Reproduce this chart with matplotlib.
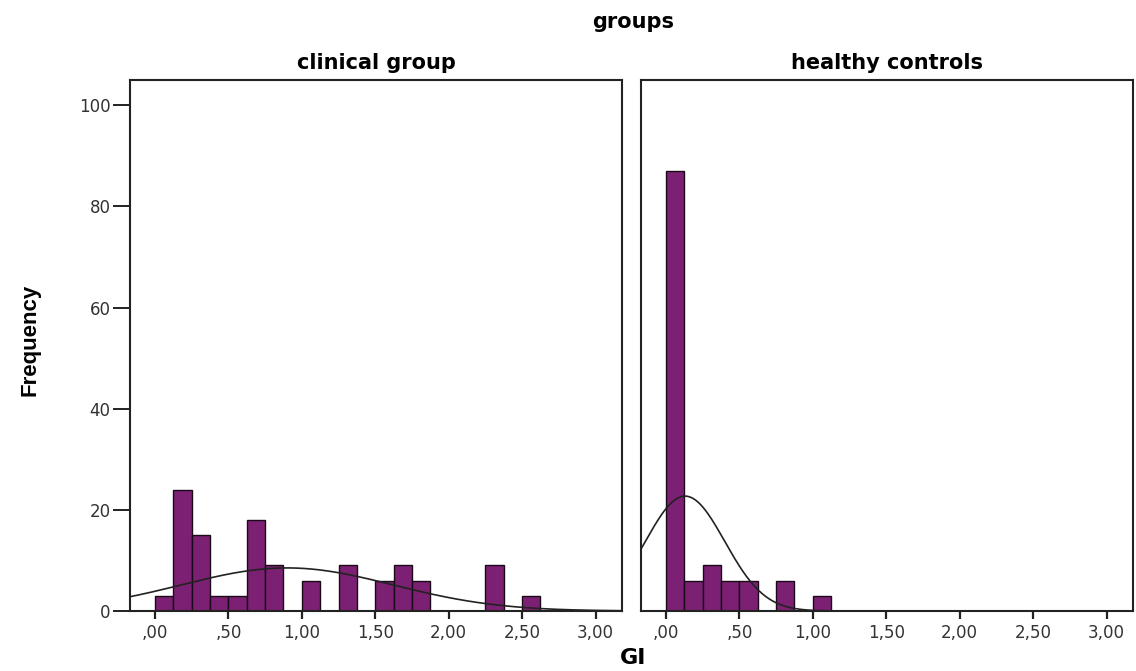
import numpy as np
import matplotlib
matplotlib.use("Agg")
import matplotlib.pyplot as plt

plt.rcParams['font.family'] = ['DejaVu Sans']

# histogram bins of width 0.125 starting at 0
BIN_WIDTH = 0.125
clinical_counts = [3, 24, 15, 3, 3, 18, 9, 0, 6, 0, 9, 0, 6, 9, 6, 0, 0, 0, 9, 0, 3]
healthy_counts = [87, 6, 9, 6, 6, 0, 6, 0, 3]

# fitted normal curves (mean, sd)
clinical_fit = (0.90, 0.72)
healthy_fit = (0.13, 0.27)

panel_titles = ["clinical group", "healthy controls"]
x_ticks = [0, 0.5, 1.0, 1.5, 2.0, 2.5, 3.0]
x_labels = [",00", ",50", "1,00", "1,50", "2,00", "2,50", "3,00"]
y_ticks = [0, 20, 40, 60, 80, 100]

BAR_COLOR = "#7b2072"

fig = plt.figure(figsize=(11.36, 6.71), dpi=100)
ax1 = fig.add_axes([130 / 1136, 1 - 611 / 671, 492 / 1136, 531 / 671])
ax2 = fig.add_axes([641 / 1136, 1 - 611 / 671, 492 / 1136, 531 / 671])


def draw_panel(ax, counts, fit, title):
    edges = np.arange(len(counts)) * BIN_WIDTH
    ax.bar(edges, counts, width=BIN_WIDTH, align='edge', color=BAR_COLOR,
           edgecolor='#1a0a18', linewidth=1.0)
    mean, sd = fit
    n = sum(counts)
    xs = np.linspace(-0.2, 3.2, 400)
    ys = n * BIN_WIDTH / (sd * np.sqrt(2 * np.pi)) * np.exp(-(xs - mean) ** 2 / (2 * sd ** 2))
    ax.plot(xs, ys, color='#222222', linewidth=1.2)
    ax.set_xlim(-0.17, 3.18)
    ax.set_ylim(0, 105)
    ax.set_xticks(x_ticks)
    ax.set_xticklabels(x_labels, fontsize=12)
    ax.set_title(title, fontsize=15, fontweight='bold', pad=8)
    for s in ax.spines.values():
        s.set_linewidth(1.5)
        s.set_color('#222222')
    ax.tick_params(axis='x', direction='out', length=6, width=1.6, pad=3,
                   colors='#222222', labelcolor='#333333')


draw_panel(ax1, clinical_counts, clinical_fit, panel_titles[0])
draw_panel(ax2, healthy_counts, healthy_fit, panel_titles[1])

ax1.set_yticks(y_ticks)
ax1.set_yticklabels([str(v) for v in y_ticks], fontsize=12)
ax1.tick_params(axis='y', direction='out', length=12, width=1.4, pad=2,
                colors='#222222', labelcolor='#333333')
ax2.set_yticks([])

fig.text(0.557, 1 - 22 / 671, "groups", ha='center', va='center',
         fontsize=15, fontweight='bold')
fig.text(0.557, 1 - 658 / 671, "GI", ha='center', va='center',
         fontsize=16, fontweight='bold')
fig.text(30 / 1136, 1 - 340 / 671, "Frequency", ha='center', va='center',
         rotation=90, fontsize=16, fontweight='bold', family='Liberation Sans')

fig.savefig("out.png", dpi=100)
